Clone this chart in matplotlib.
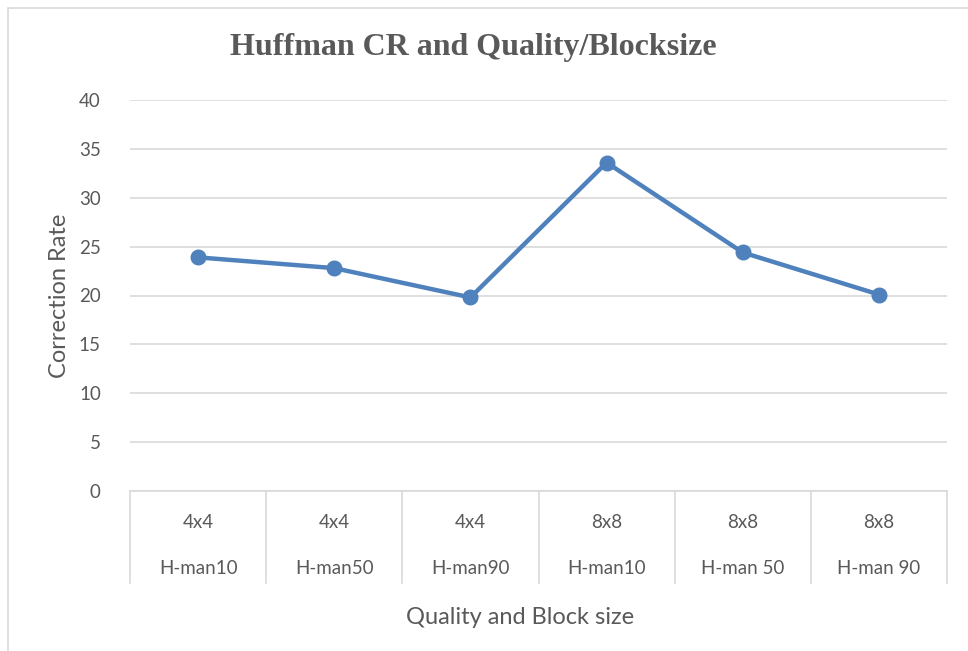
import matplotlib
matplotlib.use("Agg")
import matplotlib.pyplot as plt
from matplotlib.patches import Rectangle
import matplotlib.transforms as mtransforms

block_sizes = ["4x4", "4x4", "4x4", "8x8", "8x8", "8x8"]
qualities = ["H-man10", "H-man50", "H-man90", "H-man10", "H-man 50", "H-man 90"]
correction_rate = [23.9, 22.8, 19.8, 33.6, 24.4, 20.1]
y_ticks = [0, 5, 10, 15, 20, 25, 30, 35, 40]

W, H = 968, 651
fig = plt.figure(figsize=(W / 100, H / 100), dpi=100)
fig.patch.set_facecolor("white")

# outer chart border
fig.patches.append(Rectangle((8 / W, -0.01), 1.0, 1 - 8 / H + 0.01,
                             transform=fig.transFigure, fill=False,
                             edgecolor="#D9D9D9", linewidth=1.2))

ax = fig.add_axes([130 / W, 1 - 491 / H, (947 - 130) / W, (491 - 100) / H])
text_color = "#595959"
font = "Lato"
tick_fs = 13.5

n = len(correction_rate)
x = list(range(n))
ax.plot(x, correction_rate, color="#4F81BD", linewidth=3.2, marker="o",
        markersize=10.5, zorder=3, solid_capstyle="round")

ax.set_xlim(-0.5, n - 0.5)
ax.set_ylim(0, 40)
ax.set_yticks(y_ticks)
ax.set_yticklabels([str(v) for v in y_ticks], fontsize=tick_fs, color=text_color,
                   family=font)
ax.tick_params(axis="y", length=0, pad=21)
ax.set_xticks([])
for s in ["top", "right", "left"]:
    ax.spines[s].set_visible(False)
ax.spines["bottom"].set_color("#D9D9D9")
ax.spines["bottom"].set_linewidth(1.2)
ax.yaxis.grid(True, color="#D9D9D9", linewidth=1.2)
ax.set_axisbelow(True)

# category separators and two-level labels
trans = mtransforms.blended_transform_factory(ax.transData, ax.transAxes)
ax_h = 491 - 100
sep_bottom = -(583 - 491) / ax_h
for b in range(n + 1):
    ax.plot([b - 0.5, b - 0.5], [0, sep_bottom], transform=trans,
            color="#D9D9D9", linewidth=1.2, clip_on=False)
for i in range(n):
    ax.text(i, -(522 - 491) / ax_h, block_sizes[i], transform=trans,
            ha="center", va="center", fontsize=tick_fs, color=text_color, family=font)
    ax.text(i, -(569 - 491) / ax_h, qualities[i], transform=trans,
            ha="center", va="center", fontsize=tick_fs, color=text_color, family=font)

fig.text(520 / W, 1 - 617 / H, "Quality and Block size", ha="center",
         va="center", fontsize=17, color=text_color, family=font)
fig.text(60 / W, 1 - 296 / H, "Correction Rate", ha="center", va="center",
         rotation=90, fontsize=17, color=text_color, family=font)
fig.text(473 / W, 1 - 47 / H, "Huffman CR and Quality/Blocksize", ha="center",
         va="center", fontsize=23, fontweight="bold", color=text_color,
         family="Liberation Serif")

fig.savefig("out.png", dpi=100)
